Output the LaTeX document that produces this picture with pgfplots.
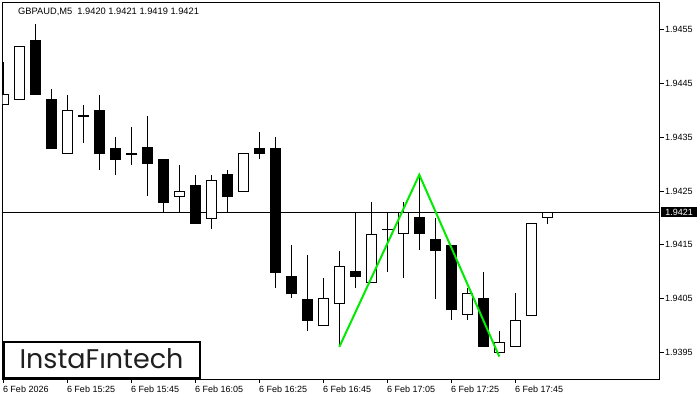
\documentclass[border=0pt]{standalone}
\usepackage{fontspec}
\setmainfont{Liberation Sans}
\newfontfamily\logofont{Poppins}
\usepackage{pgfplots}
\usepackage{pgfplotstable}
\pgfplotsset{compat=1.18}

% bullish candles: index, open, high, low, close
\pgfplotstableread{
i o h l c
0 1.9441 1.9449 1.9441 1.9443
1 1.9442 1.9452 1.9442 1.9452
4 1.9432 1.9443 1.9432 1.9440
11 1.9424 1.9430 1.9421 1.9425
13 1.9420 1.9428 1.9418 1.9427
15 1.9425 1.9432 1.9425 1.9432
20 1.9400 1.9409 1.9400 1.9405
21 1.9404 1.9414 1.9396 1.9411
23 1.9408 1.9423 1.9408 1.9417
25 1.9417 1.9423 1.9409 1.9421
29 1.9402 1.9407 1.9401 1.9406
31 1.9395 1.9399 1.9395 1.9397
32 1.9396 1.9406 1.9396 1.9401
33 1.9402 1.9419 1.9402 1.9419
34 1.9420 1.9421 1.9419 1.9421
}\bull

% bearish and doji candles
\pgfplotstableread{
i o h l c
2 1.9453 1.9456 1.9443 1.9443
3 1.9442 1.9444 1.9433 1.9433
5 1.9439 1.9441 1.9434 1.9439
6 1.9440 1.9443 1.9429 1.9432
7 1.9433 1.9435 1.9428 1.9431
8 1.9432 1.9437 1.9430 1.9432
9 1.9433 1.9439 1.9424 1.9430
10 1.9431 1.9431 1.9421 1.9423
12 1.9426 1.9428 1.9419 1.9419
14 1.9428 1.9429 1.9421 1.9424
16 1.9433 1.9436 1.9431 1.9432
17 1.9433 1.9435 1.9407 1.9410
18 1.9409 1.9415 1.9405 1.9406
19 1.9405 1.9413 1.9399 1.9401
22 1.9410 1.9421 1.9407 1.9409
24 1.9418 1.9421 1.9410 1.9418
26 1.9420 1.9428 1.9414 1.9417
27 1.9416 1.9420 1.9405 1.9414
28 1.9415 1.9415 1.9401 1.9403
30 1.9405 1.9410 1.9396 1.9396
}\bear

\definecolor{patgreen}{RGB}{0,235,0}

\pgfplotsset{
  candlepart/.style={draw=none, mark=none, forget plot,
    error bars/.cd, y dir=both, y explicit, error mark=none,
    error bar style={draw=#1}},
}

\begin{document}
\begin{tikzpicture}
\useasboundingbox (-2.5pt,-21pt) rectangle (697.5pt,379pt);
\begin{axis}[
  at={(0pt,0pt)}, anchor=south west,
  scale only axis, width=657pt, height=376pt,
  xmin=-0.05, xmax=41.0125,
  ymin=1.9390037, ymax=1.9459926,
  axis line style={black, line width=1pt},
  tick align=outside, xtick pos=bottom, ytick pos=right, yticklabel pos=right,
  major tick length=4pt, tick style={black, line width=0.8pt},
  xtick={0,4,8,12,16,20,24,28,32},
  xticklabels={6 Feb 2026,6 Feb 15:25,6 Feb 15:45,6 Feb 16:05,6 Feb 16:25,6 Feb 16:45,6 Feb 17:05,6 Feb 17:25,6 Feb 17:45},
  ytick={1.9395,1.9405,1.9415,1.9425,1.9435,1.9445,1.9455},
  yticklabels={1.9395,1.9405,1.9415,1.9425,1.9435,1.9445,1.9455},
  ticklabel style={font=\fontsize{9}{10}\selectfont, text=black},
  xticklabel style={anchor=north west, inner sep=0pt, xshift=-0.5pt, yshift=-3pt},
  yticklabel style={anchor=west, inner sep=0pt, xshift=1.5pt},
  clip mode=individual,
]
% current price line
\addplot[black, line width=1pt, forget plot] coordinates {(-1,1.9421) (42,1.9421)};

% wicks
\addplot[candlepart={black, line width=1pt}]
  table[x=i, y expr={(\thisrow{h}+\thisrow{l})/2}, y error expr={(\thisrow{h}-\thisrow{l})/2}] {\bull};
\addplot[candlepart={black, line width=1pt}]
  table[x=i, y expr={(\thisrow{h}+\thisrow{l})/2}, y error expr={(\thisrow{h}-\thisrow{l})/2}] {\bear};

% bodies: black outline / fill
\addplot[candlepart={black, line width=11pt, line cap=butt}]
  table[x=i, y expr={(\thisrow{o}+\thisrow{c})/2}, y error expr={abs(\thisrow{c}-\thisrow{o})/2+0.0000093}] {\bear};
\addplot[candlepart={black, line width=11pt, line cap=butt}]
  table[x=i, y expr={(\thisrow{o}+\thisrow{c})/2}, y error expr={abs(\thisrow{c}-\thisrow{o})/2+0.0000093}] {\bull};
% white interior of bullish candles
\addplot[candlepart={white, line width=9pt, line cap=butt}]
  table[x=i, y expr={(\thisrow{o}+\thisrow{c})/2}, y error expr={(\thisrow{c}-\thisrow{o})/2-0.0000093}] {\bull};

% double top pattern line
\addplot[patgreen, line width=2pt, forget plot] coordinates {(21,1.9396) (26,1.9428) (31,1.93942)};

% current price label
\node[fill=black, text=white, inner sep=0pt, minimum width=36pt, minimum height=10pt,
  anchor=west, font=\fontsize{9}{10}\selectfont] at (axis cs:41.0125,1.9421) [xshift=1.5pt] {1.9421};

% title
\node[anchor=base west, inner sep=0pt, font=\fontsize{9.3}{10}\selectfont]
  at (rel axis cs:0,1) [xshift=15.5pt, yshift=-11.5pt] {GBPAUD,M5\ \ 1.9420 1.9421 1.9419 1.9421};

% logo
\draw[black, line width=2pt, fill=white]
  ([shift={(1.5pt,1.5pt)}]rel axis cs:0,0) rectangle ([shift={(197.5pt,37.3pt)}]rel axis cs:0,0);
\node[anchor=base, inner sep=0pt, text=black!88, font=\logofont\fontsize{27}{30}\selectfont]
  at ([shift={(99pt,10.7pt)}]rel axis cs:0,0) {InstaFıntech};
\end{axis}
\end{tikzpicture}
\end{document}
